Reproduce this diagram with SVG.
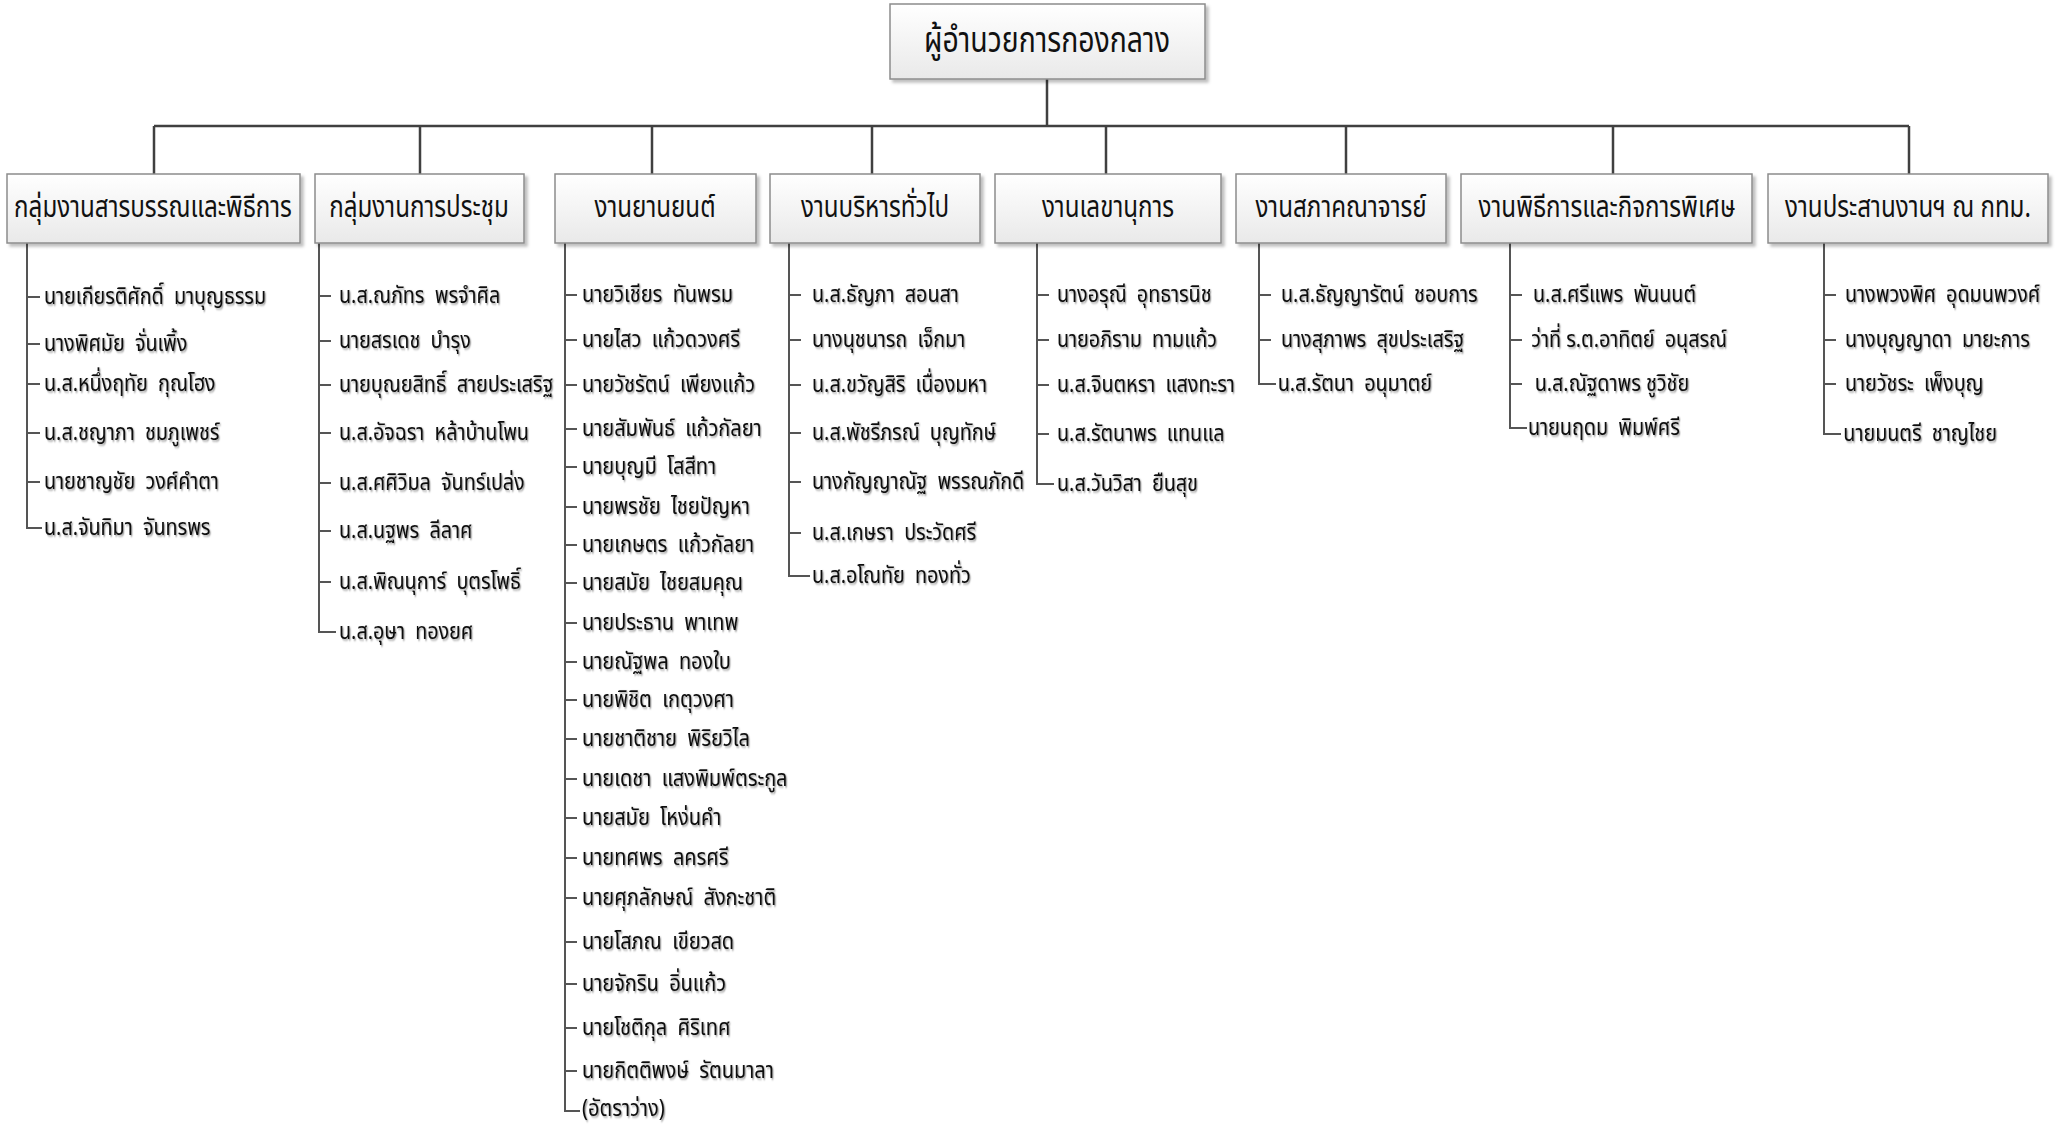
<svg xmlns="http://www.w3.org/2000/svg" width="2060" height="1125" viewBox="0 0 2060 1125">
<style>
.box{fill:url(#g);stroke:#8c8c8c;stroke-width:1.5;filter:url(#sh)}
text{font-family:"Noto Sans Thai","Leelawadee UI",Tahoma,"Noto Sans","DejaVu Sans",sans-serif;fill:#111;white-space:pre}
.t0{font-size:36px;text-anchor:middle}
.t1{font-size:31px;text-anchor:middle}
.m{font-size:23.5px;filter:url(#ts)}
.c{fill:none;stroke:#404040;stroke-width:2.5}
.l{fill:none;stroke:#555;stroke-width:2}
</style>
<defs>
<linearGradient id="g" x1="0" y1="0" x2="0" y2="1"><stop offset="0" stop-color="#ffffff"/><stop offset="1" stop-color="#e9e9e9"/></linearGradient>
<filter id="sh" x="-5%" y="-10%" width="115%" height="130%"><feDropShadow dx="3" dy="3" stdDeviation="1.5" flood-color="#000" flood-opacity="0.25"/></filter>
<filter id="ts" x="-5%" y="-20%" width="115%" height="150%"><feDropShadow dx="1.5" dy="1.5" stdDeviation="0.8" flood-color="#000" flood-opacity="0.4"/></filter>
</defs>
<rect width="2060" height="1125" fill="#fff"/>
<g id="connectors">
<path class="c" d="M1047 79V126M154 126H1909M154 126V174M420 126V174M652 126V174M872 126V174M1106 126V174M1346 126V174M1613 126V174M1909 126V174"/>
<path class="l" d="M27 243V528H42M27 297H40M27 344H40M27 384H40M27 433H40M27 482H40"/>
<path class="l" d="M319 243V632H336M319 296H331M319 341H331M319 385H331M319 433H331M319 483H331M319 531H331M319 582H331"/>
<path class="l" d="M565 243V1111H580M565 295H577M565 340H577M565 385H577M565 429H577M565 467H577M565 507H577M565 545H577M565 583H577M565 623H577M565 662H577M565 700H577M565 739H577M565 779H577M565 818H577M565 858H577M565 898H577M565 942H577M565 984H577M565 1028H577M565 1071H577"/>
<path class="l" d="M789 243V576H810M789 295H801M789 340H801M789 385H801M789 433H801M789 482H801M789 533H801"/>
<path class="l" d="M1037 243V484H1054M1037 295H1049M1037 340H1049M1037 385H1049M1037 434H1049"/>
<path class="l" d="M1259 243V384H1276M1259 295H1271M1259 340H1271"/>
<path class="l" d="M1510 243V428H1527M1510 295H1522M1510 340H1522M1510 384H1522"/>
<path class="l" d="M1824 243V434H1841M1824 295H1836M1824 340H1836M1824 384H1836"/>
</g>
<g id="director"><rect class="box" x="890" y="4" width="315" height="75"/><text class="t0" transform="translate(1047 52) scale(.79 1)">ผู้อำนวยการกองกลาง</text></g>
<g id="unit1"><rect class="box" x="7" y="174" width="293" height="69"/><text class="t1" transform="translate(153 217) scale(.78 1)">กลุ่มงานสารบรรณและพิธีการ</text></g>
<g id="unit2"><rect class="box" x="315" y="174" width="209" height="69"/><text class="t1" transform="translate(419 217) scale(.78 1)">กลุ่มงานการประชุม</text></g>
<g id="unit3"><rect class="box" x="555" y="174" width="201" height="69"/><text class="t1" transform="translate(655 217) scale(.78 1)">งานยานยนต์</text></g>
<g id="unit4"><rect class="box" x="770" y="174" width="210" height="69"/><text class="t1" transform="translate(875 217) scale(.78 1)">งานบริหารทั่วไป</text></g>
<g id="unit5"><rect class="box" x="995" y="174" width="226" height="69"/><text class="t1" transform="translate(1108 217) scale(.78 1)">งานเลขานุการ</text></g>
<g id="unit6"><rect class="box" x="1236" y="174" width="210" height="69"/><text class="t1" transform="translate(1341 217) scale(.78 1)">งานสภาคณาจารย์</text></g>
<g id="unit7"><rect class="box" x="1461" y="174" width="291" height="69"/><text class="t1" transform="translate(1607 217) scale(.78 1)">งานพิธีการและกิจการพิเศษ</text></g>
<g id="unit8"><rect class="box" x="1768" y="174" width="280" height="69"/><text class="t1" transform="translate(1908 217) scale(.78 1)">งานประสานงานฯ ณ กทม.</text></g>
<g id="staff1" transform="translate(44 0) scale(.84 1)">
<text class="m" y="304">นายเกียรติศักดิ์  มาบุญธรรม</text>
<text class="m" y="351">นางพิศมัย  จั่นเพิ้ง</text>
<text class="m" y="391">น.ส.หนึ่งฤทัย  กุณโฮง</text>
<text class="m" y="440">น.ส.ชญาภา  ชมภูเพชร์</text>
<text class="m" y="489">นายชาญชัย  วงศ์คำตา</text>
<text class="m" y="535">น.ส.จันทิมา  จันทรพร</text>
</g>
<g id="staff2" transform="translate(339 0) scale(.84 1)">
<text class="m" y="303">น.ส.ณภัทร  พรจำศิล</text>
<text class="m" y="348">นายสรเดช  บำรุง</text>
<text class="m" y="392">นายบุณยสิทธิ์  สายประเสริฐ</text>
<text class="m" y="440">น.ส.อัจฉรา  หล้าบ้านโพน</text>
<text class="m" y="490">น.ส.ศศิวิมล  จันทร์เปล่ง</text>
<text class="m" y="538">น.ส.นฐพร  ลีลาศ</text>
<text class="m" y="589">น.ส.พิณนุการ์  บุตรโพธิ์</text>
<text class="m" y="639">น.ส.อุษา  ทองยศ</text>
</g>
<g id="staff3" transform="translate(582 0) scale(.85 1)">
<text class="m" y="302">นายวิเชียร  ทันพรม</text>
<text class="m" y="347">นายไสว  แก้วดวงศรี</text>
<text class="m" y="392">นายวัชรัตน์  เพียงแก้ว</text>
<text class="m" y="436">นายสัมพันธ์  แก้วกัลยา</text>
<text class="m" y="474">นายบุญมี  โสสีทา</text>
<text class="m" y="514">นายพรชัย  ไชยปัญหา</text>
<text class="m" y="552">นายเกษตร  แก้วกัลยา</text>
<text class="m" y="590">นายสมัย  ไชยสมคุณ</text>
<text class="m" y="630">นายประธาน  พาเทพ</text>
<text class="m" y="669">นายณัฐพล  ทองใบ</text>
<text class="m" y="707">นายพิชิต  เกตุวงศา</text>
<text class="m" y="746">นายชาติชาย  พิริยวิไล</text>
<text class="m" y="786">นายเดชา  แสงพิมพ์ตระกูล</text>
<text class="m" y="825">นายสมัย  โหง่นคำ</text>
<text class="m" y="865">นายทศพร  ลครศรี</text>
<text class="m" y="905">นายศุภลักษณ์  สังกะชาติ</text>
<text class="m" y="949">นายโสภณ  เขียวสด</text>
<text class="m" y="991">นายจักริน  อิ่นแก้ว</text>
<text class="m" y="1035">นายโชติกุล  ศิริเทศ</text>
<text class="m" y="1078">นายกิตติพงษ์  รัตนมาลา</text>
<text class="m" y="1116">(อัตราว่าง)</text>
</g>
<g id="staff4" transform="translate(812 0) scale(.84 1)">
<text class="m" y="302">น.ส.ธัญภา  สอนสา</text>
<text class="m" y="347">นางนุชนารถ  เจ็กมา</text>
<text class="m" y="392">น.ส.ขวัญสิริ  เนื่องมหา</text>
<text class="m" y="440">น.ส.พัชรีภรณ์  บุญทักษ์</text>
<text class="m" y="489">นางกัญญาณัฐ  พรรณภักดี</text>
<text class="m" y="540">น.ส.เกษรา  ประวัดศรี</text>
<text class="m" y="583">น.ส.อโณทัย  ทองทั่ว</text>
</g>
<g id="staff5" transform="translate(1057 0) scale(.84 1)">
<text class="m" y="302">นางอรุณี  อุทธารนิช</text>
<text class="m" y="347">นายอภิราม  ทามแก้ว</text>
<text class="m" y="392">น.ส.จินตหรา  แสงทะรา</text>
<text class="m" y="441">น.ส.รัตนาพร  แทนแล</text>
<text class="m" y="491">น.ส.วันวิสา  ยืนสุข</text>
</g>
<g id="staff6" transform="translate(1281 0) scale(.84 1)">
<text class="m" y="302">น.ส.ธัญญารัตน์  ชอบการ</text>
<text class="m" y="347">นางสุภาพร  สุขประเสริฐ</text>
<text class="m" x="-4" y="391">น.ส.รัตนา  อนุมาตย์</text>
</g>
<g id="staff7" transform="translate(1533 0) scale(.84 1)">
<text class="m" y="302">น.ส.ศรีแพร  พันนนต์</text>
<text class="m" x="-2" y="347">ว่าที่ ร.ต.อาทิตย์  อนุสรณ์</text>
<text class="m" x="2" y="391">น.ส.ณัฐดาพร ชูวิชัย</text>
<text class="m" x="-6" y="435">นายนฤดม  พิมพ์ศรี</text>
</g>
<g id="staff8" transform="translate(1845 0) scale(.84 1)">
<text class="m" y="302">นางพวงพิศ  อุดมนพวงศ์</text>
<text class="m" y="347">นางบุญญาดา  มายะการ</text>
<text class="m" y="391">นายวัชระ  เพ็งบุญ</text>
<text class="m" x="-2" y="441">นายมนตรี  ชาญไชย</text>
</g>
</svg>
